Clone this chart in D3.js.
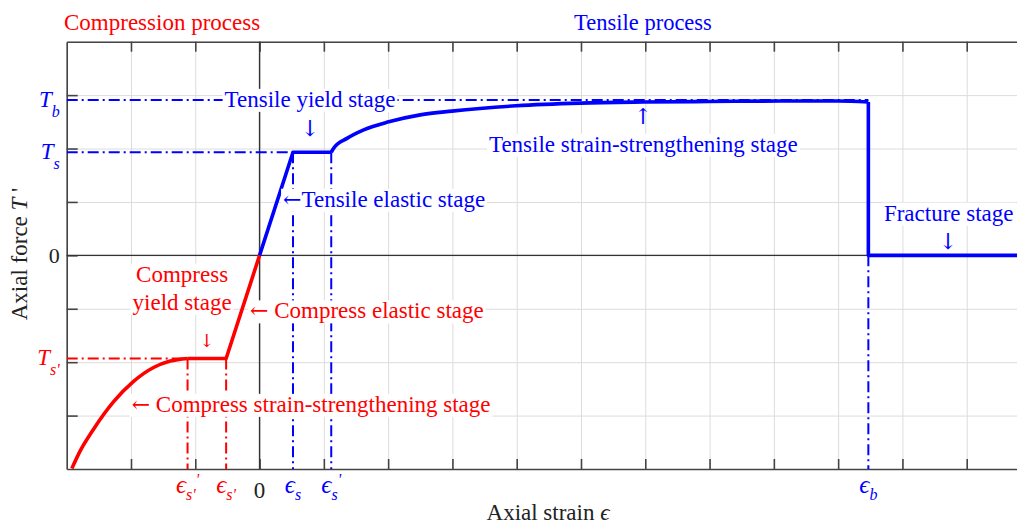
<!DOCTYPE html>
<html>
<head>
<meta charset="utf-8">
<script src="https://cdn.jsdelivr.net/npm/d3@7"></script>
<style>
  html, body { margin: 0; padding: 0; background: #fff; }
  svg { display: block; font-family: "Liberation Serif", "Times New Roman", "DejaVu Serif", serif; }
  .arw { font-family: "DejaVu Serif", "Liberation Serif", serif; }
</style>
</head>
<body>
<svg id="chart" width="1017" height="524"></svg>
<script>
// ---- grid (normalised units) ----
const strainGrid = d3.range(-3, 13);   // -3 .. 12
const forceGrid = d3.range(-4, 5);     // -4 .. 4

// ---- characteristic values ----
const forceLevels = { Tb: 2.91, Ts: 1.93, TsC: -1.93 };
const strainLevels = { epsS: 0.52, epsS2: 1.115, epsB: 9.47, epsC: -0.52, epsC2: -1.12 };

// ---- tensile branch ----
const elasticStrain = [0, 0.52, 1.115];
const elasticForce = [0, 1.93, 1.93];
const hardenStrain = [1.115, 1.15, 1.36, 1.62, 2.01, 2.50, 2.99, 3.99, 4.99, 5.97, 6.98, 8.10, 9.00, 9.47];
const hardenForce  = [1.93, 2.00, 2.19, 2.35, 2.50, 2.63, 2.70, 2.80, 2.85, 2.87, 2.88, 2.89, 2.89, 2.87];
const fractureStrain = [9.47, 9.47, 12];
const fractureForce  = [2.87, 0, 0];

// ---- compression branch ----
const compElasticStrain = [0, -0.52, -1.12];
const compElasticForce  = [0, -1.93, -1.93];
const compHardenStrain = [-2.92, -2.79, -2.58, -2.27, -1.96, -1.649, -1.389, -1.12];
const compHardenForce  = [-3.99, -3.66, -3.25, -2.74, -2.36, -2.10, -1.98, -1.93];

// ---- tick labels ----
const forceTickValues = [2.91, 1.93, 0, -1.93];
const forceTickText = [["T", "b"], ["T", "s"], ["0", ""], ["T", "s'"]];
const strainTickValues = [-1.12, -0.52, 0, 0.52, 1.115, 9.47];
const strainTickText = [["ϵ", "s'", "'"], ["ϵ", "s'", ""], ["0", "", ""], ["ϵ", "s", ""], ["ϵ", "s", "'"], ["ϵ", "b", ""]];

// ---- layout ----
const BLUE = "#0000ff", RED = "#ff0000", INK = "#222";
const plot = { left: 66.7, top: 41.7, right: 1031, bottom: 469 };
const x = d3.scaleLinear().domain([-3, 12]).range([plot.left, plot.right]);
const y = d3.scaleLinear().domain([-4, 4]).range([plot.bottom, plot.top]);
const signColor = v => v > 0 ? BLUE : (v < 0 ? RED : INK);
const FS = 23;

const svg = d3.select("#chart");
svg.append("defs").append("clipPath").attr("id", "plotClip")
  .append("rect").attr("x", plot.left).attr("y", plot.top)
  .attr("width", plot.right - plot.left).attr("height", plot.bottom - plot.top);

// grid lines
svg.append("g").attr("transform", `translate(0,${plot.bottom})`)
  .call(d3.axisBottom(x).tickValues(strainGrid).tickSize(-(plot.bottom - plot.top)).tickFormat(""))
  .call(g => g.select(".domain").remove())
  .call(g => g.selectAll("line").attr("stroke", "#dcdcdc").attr("stroke-width", 1));
svg.append("g").attr("transform", `translate(${plot.left},0)`)
  .call(d3.axisLeft(y).tickValues(forceGrid).tickSize(-(plot.right - plot.left)).tickFormat(""))
  .call(g => g.select(".domain").remove())
  .call(g => g.selectAll("line").attr("stroke", "#dcdcdc").attr("stroke-width", 1));

// frame with inward ticks
const frameStyle = g => {
  g.select(".domain").attr("stroke", "#444").attr("stroke-width", 1.6);
  g.selectAll(".tick line").attr("stroke", "#444").attr("stroke-width", 1.6);
};
svg.append("g").attr("transform", `translate(0,${plot.bottom})`)
  .call(d3.axisBottom(x).tickValues(strainGrid.slice(1)).tickSize(-10).tickSizeOuter(0).tickFormat(""))
  .call(frameStyle);
svg.append("g").attr("transform", `translate(0,${plot.top})`)
  .call(d3.axisTop(x).tickValues(strainGrid.slice(1)).tickSize(-10).tickSizeOuter(0).tickFormat(""))
  .call(frameStyle);
svg.append("g").attr("transform", `translate(${plot.left},0)`)
  .call(d3.axisLeft(y).tickValues(forceGrid.slice(1, -1)).tickSize(-11).tickSizeOuter(0).tickFormat(""))
  .call(frameStyle);

// zero axes
svg.append("line").attr("x1", plot.left).attr("x2", plot.right).attr("y1", y(0)).attr("y2", y(0))
  .attr("stroke", "#333").attr("stroke-width", 1.4);
svg.append("line").attr("x1", x(0)).attr("x2", x(0)).attr("y1", plot.top).attr("y2", plot.bottom)
  .attr("stroke", "#333").attr("stroke-width", 1.4);

// dash-dot reference lines
const refs = svg.append("g").attr("clip-path", "url(#plotClip)")
  .attr("fill", "none").attr("stroke-width", 2).attr("stroke-dasharray", "11,4,2,4");
const refLine = (pts, color) => refs.append("path")
  .attr("d", d3.line().x(d => x(d[0])).y(d => y(d[1]))(pts)).attr("stroke", color);
refLine([[-3, forceLevels.Tb], [strainLevels.epsB, forceLevels.Tb]], BLUE);
refLine([[-3, forceLevels.Ts], [strainLevels.epsS, forceLevels.Ts]], BLUE);
refLine([[strainLevels.epsS, forceLevels.Ts], [strainLevels.epsS, -4]], BLUE);
refLine([[strainLevels.epsS2, forceLevels.Ts], [strainLevels.epsS2, -4]], BLUE);
refLine([[strainLevels.epsB, 0], [strainLevels.epsB, -4]], BLUE);
refLine([[-3, forceLevels.TsC], [strainLevels.epsC2, forceLevels.TsC]], RED);
refLine([[strainLevels.epsC2, forceLevels.TsC], [strainLevels.epsC2, -4]], RED);
refLine([[strainLevels.epsC, forceLevels.TsC], [strainLevels.epsC, -4]], RED);

// force–strain curves
const curves = svg.append("g").attr("clip-path", "url(#plotClip)")
  .attr("fill", "none").attr("stroke-width", 3.6)
  .attr("stroke-linejoin", "round").attr("stroke-linecap", "butt");
const zip = (xs, ys) => xs.map((v, i) => [v, ys[i]]);
const lin = d3.line().x(d => x(d[0])).y(d => y(d[1]));
const smooth = d3.line().x(d => x(d[0])).y(d => y(d[1])).curve(d3.curveMonotoneX);
curves.append("path").attr("d", lin(zip(elasticStrain, elasticForce))).attr("stroke", BLUE);
curves.append("path").attr("d", smooth(zip(hardenStrain, hardenForce))).attr("stroke", BLUE);
curves.append("path").attr("d", lin(zip(fractureStrain, fractureForce))).attr("stroke", BLUE);
curves.append("path").attr("d", lin(zip(compElasticStrain, compElasticForce))).attr("stroke", RED);
curves.append("path").attr("d", smooth(zip(compHardenStrain, compHardenForce))).attr("stroke", RED);

// force tick labels
forceTickValues.forEach((v, i) => {
  const [main, sub] = forceTickText[i];
  const t = svg.append("text").attr("text-anchor", "end").attr("fill", signColor(v))
    .attr("x", plot.left - 7).attr("y", y(v) + 7);
  if (sub) {
    t.append("tspan").attr("font-style", "italic").attr("font-size", 23).text(main);
    t.append("tspan").attr("font-style", "italic").attr("font-size", 16).attr("dy", 10).text(sub);
  } else {
    t.attr("y", y(v) + 8).append("tspan").attr("font-size", 22).text(main);
  }
});

// strain tick labels
strainTickValues.forEach((v, i) => {
  const [main, sub, sup] = strainTickText[i];
  const t = svg.append("text").attr("text-anchor", "middle").attr("fill", signColor(v))
    .attr("x", x(v)).attr("y", main === "0" ? 498 : 493);
  if (main === "0") { t.attr("font-size", 23).text(main); return; }
  t.append("tspan").attr("font-style", "italic").attr("font-size", 25).text(main);
  t.append("tspan").attr("font-style", "italic").attr("font-size", 16).attr("dy", 7).text(sub);
  if (sup) t.append("tspan").attr("font-style", "italic").attr("font-size", 16).attr("dy", -15).text(sup);
});

// axis titles
svg.append("text").attr("x", 548).attr("y", 520).attr("text-anchor", "middle")
  .attr("font-size", FS).attr("fill", INK)
  .call(t => { t.append("tspan").text("Axial strain "); t.append("tspan").attr("font-style", "italic").text("ϵ"); });
svg.append("text").attr("transform", "translate(27,254) rotate(-90)").attr("text-anchor", "middle")
  .attr("font-size", FS).attr("fill", INK)
  .call(t => { t.append("tspan").text("Axial force "); t.append("tspan").attr("font-style", "italic").text("T"); t.append("tspan").text(" '"); });

// process headings
svg.append("text").attr("x", 64).attr("y", 30).attr("font-size", 23).attr("fill", RED).text("Compression process");
svg.append("text").attr("x", 643).attr("y", 29.5).attr("text-anchor", "middle").attr("font-size", 22.5).attr("fill", BLUE).text("Tensile process");

// stage annotations on white boxes; a leading "←" is drawn as a wide arrow glyph
const note = (lines, xv, yv, anchor, color, lead) => {
  const g = svg.append("g");
  const box = g.append("rect").attr("fill", "#fff");
  const t = g.append("text").attr("font-size", FS).attr("fill", color).attr("text-anchor", anchor);
  lines.forEach((s, i) => {
    const ln = t.append("tspan").attr("x", x(xv)).attr("y", y(yv) + i * 28.4);
    if (lead !== undefined && i === 0) {
      ln.append("tspan").attr("class", "arw").attr("font-size", 22).text("←");
      ln.append("tspan").text(lead + s);
    } else ln.text(s);
  });
  const b = t.node().getBBox();
  box.attr("x", b.x - 2).attr("y", b.y + 2).attr("width", b.width + 4).attr("height", b.height - 2);
};
const arrow = (ch, xv, yv, color, size) => svg.append("text").attr("class", "arw")
  .attr("x", x(xv)).attr("y", y(yv))
  .attr("text-anchor", "middle").attr("font-size", size).attr("fill", color).text(ch);

note(["Tensile yield stage"], 0.785, 2.78, "middle", BLUE);
arrow("↓", 0.785, 2.24, BLUE, 22);
note(["Tensile strain-strengthening stage"], 5.97, 1.94, "middle", BLUE);
arrow("↑", 5.965, 2.45, BLUE, 22);
note(["Tensile elastic stage"], 0.366, 0.91, "start", BLUE, "");
note(["Fracture stage"], 10.72, 0.65, "middle", BLUE);
arrow("↓", 10.71, 0.12, BLUE, 22);
note(["Compress", "yield stage"], -1.205, -0.49, "middle", RED);
arrow("↓", -0.82, -1.72, RED, 18);
note(["Compress elastic stage"], -0.148, -1.18, "start", RED, " ");
note(["Compress strain-strengthening stage"], -1.99, -2.93, "start", RED, " ");
</script>
</body>
</html>
